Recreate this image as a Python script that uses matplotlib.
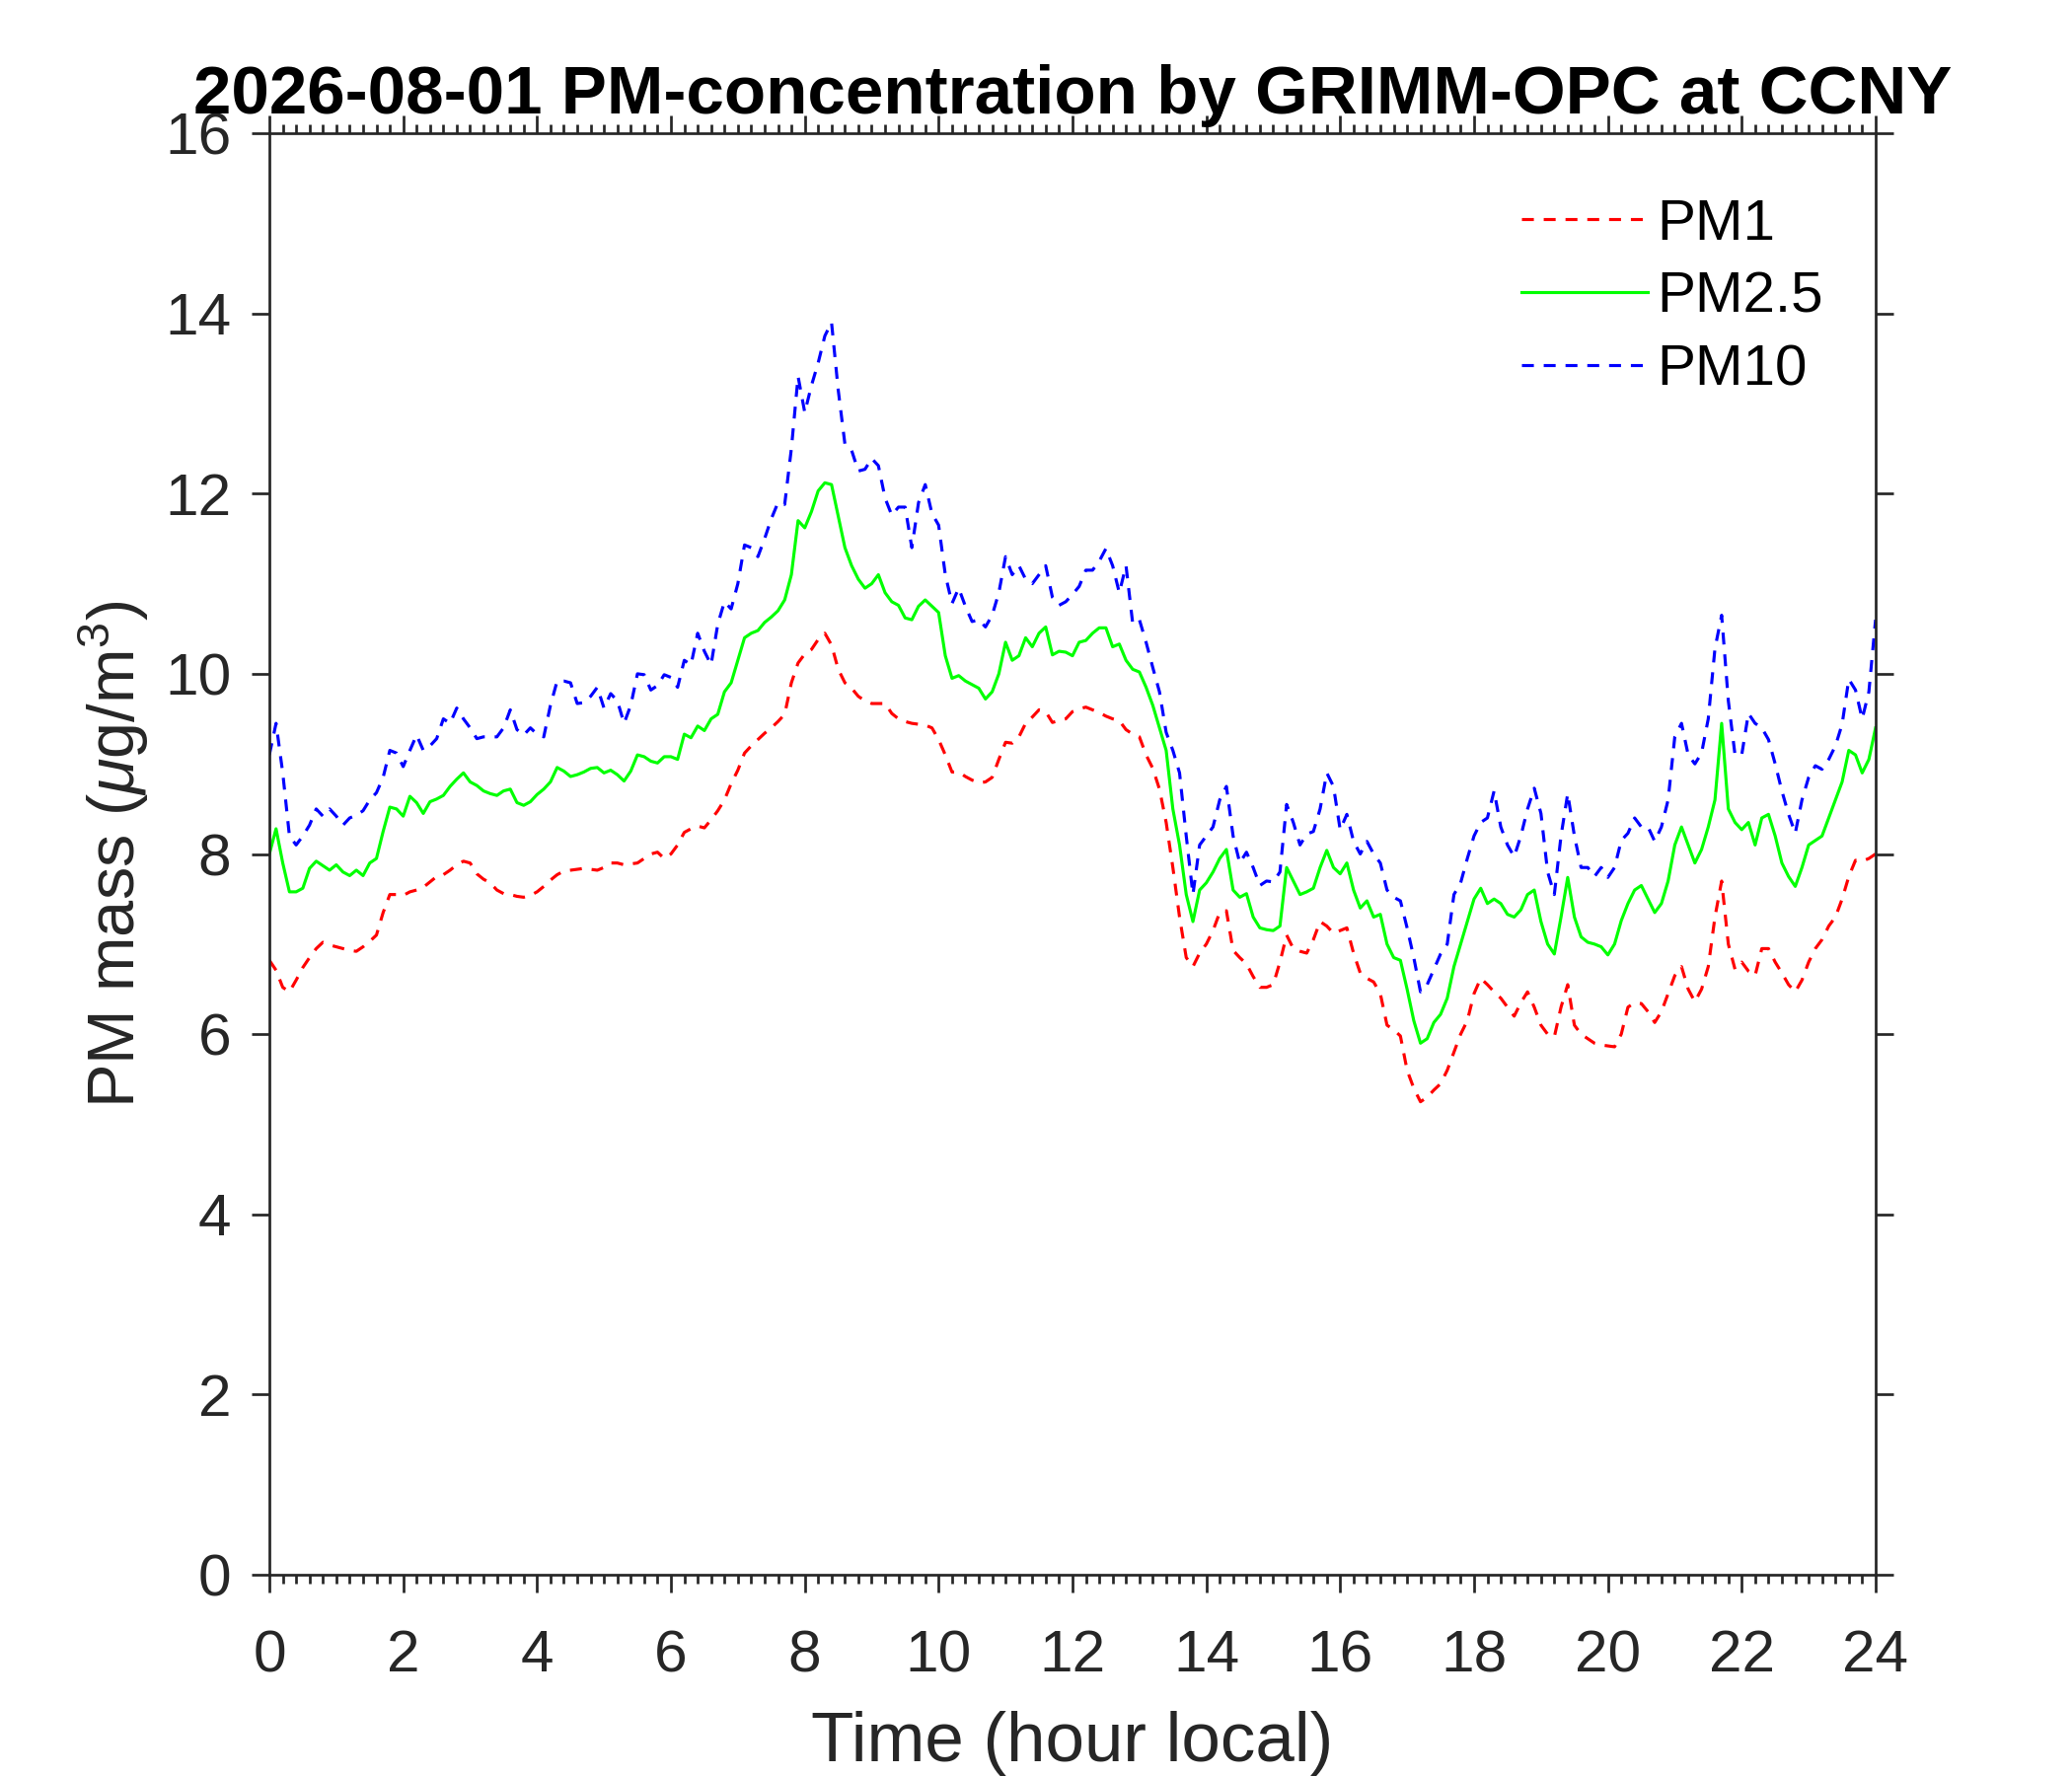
import numpy as np
import matplotlib
matplotlib.use("Agg")
import matplotlib.pyplot as plt
from matplotlib.ticker import MultipleLocator

plt.rcParams["font.family"] = ["Liberation Sans", "DejaVu Sans"]
plt.rcParams["mathtext.fontset"] = "custom"
plt.rcParams["mathtext.rm"] = "Liberation Sans"
plt.rcParams["mathtext.it"] = "Liberation Sans:italic"
plt.rcParams["lines.scale_dashes"] = False

# hours of the day, one reading every 6 minutes
hours = np.round(np.arange(0, 24.001, 0.1), 1)

# PM1 (ug/m3)
pm1 = [
    6.82, 6.71, 6.52, 6.47, 6.60, 6.74, 6.85, 6.95, 7.02, 6.99,
    6.97, 6.95, 6.93, 6.92, 6.97, 7.03, 7.10, 7.35, 7.55, 7.55,
    7.54, 7.58, 7.60, 7.63, 7.69, 7.75, 7.77, 7.82, 7.88, 7.92,
    7.90, 7.78, 7.72, 7.68, 7.60, 7.56, 7.55, 7.53, 7.52, 7.54,
    7.58, 7.64, 7.71, 7.77, 7.81, 7.82, 7.83, 7.84, 7.83, 7.82,
    7.85, 7.90, 7.90, 7.88, 7.89, 7.90, 7.95, 8.00, 8.02, 7.95,
    8.00, 8.10, 8.24, 8.28, 8.31, 8.29, 8.38, 8.48, 8.60, 8.78,
    8.93, 9.12, 9.20, 9.27, 9.34, 9.40, 9.47, 9.55, 9.90, 10.12,
    10.22, 10.27, 10.38, 10.45, 10.32, 10.05, 9.90, 9.84, 9.75, 9.70,
    9.67, 9.67, 9.67, 9.56, 9.50, 9.47, 9.45, 9.44, 9.43, 9.40,
    9.27, 9.10, 8.91, 8.91, 8.86, 8.82, 8.79, 8.80, 8.85, 9.05,
    9.24, 9.23, 9.30, 9.45, 9.52, 9.60, 9.58, 9.46, 9.48, 9.50,
    9.58, 9.61, 9.63, 9.60, 9.57, 9.53, 9.50, 9.48, 9.38, 9.33,
    9.30, 9.10, 8.95, 8.72, 8.35, 7.85, 7.30, 6.85, 6.75, 6.90,
    7.00, 7.15, 7.35, 7.37, 6.93, 6.85, 6.78, 6.64, 6.52, 6.52,
    6.55, 6.80, 7.10, 6.95, 6.92, 6.90, 7.05, 7.25, 7.20, 7.12,
    7.15, 7.18, 6.90, 6.68, 6.62, 6.58, 6.45, 6.10, 6.05, 5.98,
    5.60, 5.40, 5.25, 5.30, 5.38, 5.45, 5.60, 5.80, 6.00, 6.15,
    6.45, 6.62, 6.55, 6.47, 6.40, 6.30, 6.20, 6.35, 6.47, 6.30,
    6.10, 6.00, 5.97, 6.30, 6.55, 6.10, 6.00, 5.95, 5.90, 5.88,
    5.87, 5.86, 6.00, 6.30, 6.35, 6.34, 6.25, 6.13, 6.25, 6.45,
    6.65, 6.75, 6.50, 6.36, 6.50, 6.75, 7.30, 7.70, 7.00, 6.72,
    6.80, 6.70, 6.65, 6.95, 6.95, 6.80, 6.68, 6.55, 6.47, 6.60,
    6.80, 6.95, 7.05, 7.20, 7.30, 7.50, 7.75, 7.93, 7.92, 7.95,
    8.00,
]

pm25 = [
    8.00, 8.28, 7.90, 7.58, 7.58, 7.62, 7.84, 7.92, 7.87, 7.82,
    7.88, 7.80, 7.76, 7.82, 7.76, 7.90, 7.95, 8.25, 8.52, 8.50,
    8.42, 8.64, 8.57, 8.45, 8.58, 8.61, 8.65, 8.75, 8.83, 8.90,
    8.80, 8.76, 8.70, 8.67, 8.65, 8.70, 8.72, 8.57, 8.54, 8.58,
    8.66, 8.72, 8.80, 8.96, 8.92, 8.86, 8.88, 8.91, 8.95, 8.96,
    8.90, 8.93, 8.88, 8.81, 8.92, 9.10, 9.08, 9.03, 9.01, 9.08,
    9.08, 9.05, 9.33, 9.29, 9.42, 9.37, 9.50, 9.55, 9.80, 9.90,
    10.15, 10.40, 10.45, 10.48, 10.57, 10.63, 10.70, 10.82, 11.10, 11.70,
    11.62, 11.80, 12.03, 12.12, 12.10, 11.75, 11.40, 11.20, 11.05, 10.95,
    11.00, 11.10, 10.90, 10.80, 10.76, 10.62, 10.60, 10.75, 10.82, 10.75,
    10.68, 10.20, 9.95, 9.98, 9.92, 9.88, 9.84, 9.72, 9.80, 10.00,
    10.35, 10.15, 10.20, 10.40, 10.30, 10.45, 10.52, 10.21, 10.25, 10.24,
    10.20, 10.35, 10.37, 10.45, 10.51, 10.51, 10.30, 10.33, 10.15, 10.05,
    10.02, 9.85, 9.65, 9.40, 9.15, 8.50, 8.10, 7.55, 7.25, 7.60,
    7.68, 7.80, 7.95, 8.05, 7.60, 7.52, 7.56, 7.30, 7.18, 7.16,
    7.15, 7.20, 7.85, 7.70, 7.55, 7.58, 7.62, 7.85, 8.04, 7.85,
    7.78, 7.90, 7.60, 7.40, 7.48, 7.30, 7.33, 7.00, 6.85, 6.82,
    6.50, 6.15, 5.90, 5.95, 6.13, 6.22, 6.40, 6.75, 7.00, 7.25,
    7.50, 7.62, 7.45, 7.50, 7.45, 7.33, 7.30, 7.38, 7.55, 7.60,
    7.25, 7.00, 6.89, 7.30, 7.74, 7.30, 7.08, 7.02, 7.00, 6.97,
    6.88, 7.00, 7.26, 7.45, 7.60, 7.65, 7.50, 7.35, 7.45, 7.70,
    8.10, 8.30, 8.10, 7.90, 8.05, 8.30, 8.60, 9.45, 8.50, 8.35,
    8.27, 8.35, 8.10, 8.40, 8.44, 8.20, 7.90, 7.75, 7.64, 7.85,
    8.10, 8.15, 8.20, 8.40, 8.60, 8.80, 9.15, 9.10, 8.90, 9.05,
    9.40,
]

pm10 = [
    9.10, 9.45, 8.90, 8.20, 8.10, 8.20, 8.32, 8.50, 8.42, 8.50,
    8.42, 8.32, 8.40, 8.43, 8.48, 8.60, 8.68, 8.85, 9.15, 9.12,
    8.97, 9.15, 9.32, 9.15, 9.20, 9.28, 9.50, 9.45, 9.62, 9.50,
    9.40, 9.28, 9.30, 9.30, 9.30, 9.40, 9.60, 9.38, 9.32, 9.40,
    9.33, 9.30, 9.65, 9.92, 9.92, 9.90, 9.67, 9.68, 9.75, 9.85,
    9.62, 9.78, 9.70, 9.45, 9.65, 10.00, 9.99, 9.82, 9.87, 9.99,
    9.96, 9.85, 10.15, 10.10, 10.45, 10.25, 10.10, 10.55, 10.80, 10.72,
    11.00, 11.43, 11.40, 11.30, 11.50, 11.72, 11.90, 11.88, 12.50, 13.30,
    12.90, 13.20, 13.45, 13.75, 13.90, 13.15, 12.55, 12.48, 12.25, 12.27,
    12.39, 12.31, 11.95, 11.76, 11.85, 11.85, 11.40, 11.90, 12.10, 11.78,
    11.65, 11.10, 10.78, 10.95, 10.75, 10.58, 10.60, 10.52, 10.65, 10.90,
    11.30, 11.10, 11.20, 11.05, 11.00, 11.10, 11.20, 10.85, 10.76, 10.80,
    10.88, 10.97, 11.15, 11.15, 11.25, 11.39, 11.20, 10.90, 11.20, 10.56,
    10.60, 10.35, 10.07, 9.80, 9.35, 9.15, 8.90, 8.20, 7.55, 8.10,
    8.20, 8.30, 8.60, 8.75, 8.20, 7.90, 8.02, 7.85, 7.65, 7.70,
    7.69, 7.80, 8.55, 8.35, 8.10, 8.22, 8.25, 8.50, 8.90, 8.75,
    8.27, 8.44, 8.14, 8.00, 8.14, 8.00, 7.90, 7.60, 7.52, 7.48,
    7.18, 6.85, 6.47, 6.55, 6.72, 6.89, 7.00, 7.55, 7.68, 7.95,
    8.20, 8.35, 8.40, 8.70, 8.30, 8.10, 7.97, 8.20, 8.50, 8.73,
    8.45, 7.80, 7.55, 8.20, 8.67, 8.20, 7.85, 7.85, 7.75, 7.85,
    7.74, 7.85, 8.15, 8.23, 8.40, 8.30, 8.30, 8.14, 8.30, 8.60,
    9.30, 9.45, 9.10, 9.00, 9.12, 9.50, 10.28, 10.65, 9.70, 9.10,
    9.10, 9.56, 9.45, 9.40, 9.27, 9.00, 8.70, 8.44, 8.23, 8.60,
    8.85, 8.98, 8.94, 9.05, 9.20, 9.44, 9.94, 9.82, 9.50, 9.80,
    10.60,
]

labels = ["PM1", "PM2.5", "PM10"]
title = "2026-08-01 PM-concentration by GRIMM-OPC at CCNY"

dark = "#262626"
dash = (0, (2.9, 2.4))

fig = plt.figure(figsize=(7, 6), dpi=300)
ax = fig.add_axes([0.1300, 0.1133, 0.7752, 0.8117])

ax.plot(hours, pm1, color="#ff0000", lw=0.75, linestyle=dash, label=labels[0])
ax.plot(hours, pm25, color="#00ff00", lw=0.75, label=labels[1])
ax.plot(hours, pm10, color="#0000ff", lw=0.75, linestyle=dash, label=labels[2])

ax.set_xlim(0, 24)
ax.set_ylim(0, 16)
ax.xaxis.set_major_locator(MultipleLocator(2))
ax.xaxis.set_minor_locator(MultipleLocator(0.2))
ax.yaxis.set_major_locator(MultipleLocator(2))

for s in ax.spines.values():
    s.set_color(dark)
    s.set_linewidth(0.65)
ax.tick_params(which="both", direction="out", top=True, right=True,
               color=dark, width=0.65, labelcolor=dark, labelsize=14.5)
ax.tick_params(which="major", length=4.3)
ax.tick_params(which="minor", length=2.2)
ax.tick_params(axis="x", pad=9)
ax.tick_params(axis="y", pad=5)

ax.set_xlabel("Time (hour local)", fontsize=17, color=dark)
ax.xaxis.set_label_coords(0.5, -0.1294)
ax.xaxis.label.set_verticalalignment("baseline")
ax.set_ylabel(r"PM mass ($\mu$g/m$^3$)", fontsize=16, color=dark)
ax.yaxis.set_label_coords(-0.097, 0.5)
ax.yaxis.label.set_verticalalignment("center")

ax.text(0.5, 1.0137, title, transform=ax.transAxes, ha="center",
        va="baseline", fontsize=16.6, fontweight="bold", color="black")

ax.legend(loc="upper left", bbox_to_anchor=(0.7795, 0.955), frameon=False,
          fontsize=14, handlelength=2.2, handletextpad=0.15,
          labelspacing=0.34, borderpad=0, borderaxespad=0,
          labelcolor="black")

fig.savefig("out.png", dpi=300, facecolor="white")
